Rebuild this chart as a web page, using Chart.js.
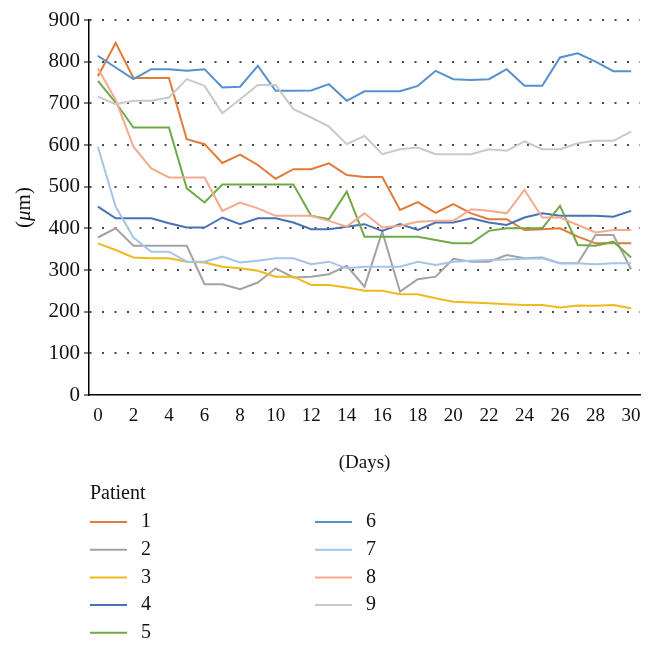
<!DOCTYPE html>
<html>
<head>
<meta charset="utf-8">
<script src="https://cdn.jsdelivr.net/npm/chart.js@4/dist/chart.umd.min.js"></script>
<style>
  html, body { margin: 0; padding: 0; background: #fff; }
  #wrap { width: 654px; height: 653px; position: relative; }
</style>
</head>
<body>
<div id="wrap"><canvas id="chart" width="654" height="653"></canvas></div>
<script>
/* ── Data ── */
const days = Array.from({ length: 31 }, (_, i) => String(i));
const patientNames = ['1', '2', '3', '4', '5', '6', '7', '8', '9'];
const patientColors = ['#E07B39', '#A3A3A3', '#F0B91C', '#4A70B5', '#70AA48',
                       '#5591CE', '#A4C4E8', '#F3AA8F', '#C9C9C9'];
const yTicks = [0, 100, 200, 300, 400, 500, 600, 700, 800, 900];

const p1 = [765, 845, 761, 761, 761, 614, 602, 557, 577, 552, 519, 542, 542, 556, 528, 523, 523, 444, 463, 437, 458, 436, 422, 422, 396, 398, 400, 380, 364, 364, 364];
const p2 = [378, 400, 358, 358, 358, 358, 266, 266, 254, 270, 304, 282, 284, 290, 310, 260, 392, 248, 278, 284, 327, 320, 320, 336, 328, 330, 316, 316, 384, 384, 302];
const p3 = [364, 348, 330, 328, 328, 320, 318, 308, 304, 298, 284, 284, 264, 264, 258, 250, 250, 242, 242, 232, 224, 222, 220, 218, 216, 216, 210, 215, 214, 216, 208];
const p4 = [452, 424, 424, 424, 412, 402, 402, 426, 410, 424, 424, 414, 398, 398, 404, 410, 394, 410, 396, 414, 414, 424, 414, 408, 426, 436, 430, 430, 430, 428, 442];
const p5 = [754, 702, 642, 642, 642, 496, 462, 505, 505, 505, 505, 505, 430, 422, 488, 380, 380, 380, 380, 372, 364, 364, 394, 400, 400, 400, 454, 360, 358, 368, 330];
const p6 = [814, 786, 758, 782, 782, 778, 782, 738, 740, 790, 730, 730, 731, 746, 706, 729, 729, 729, 742, 778, 758, 756, 758, 782, 742, 742, 810, 820, 800, 777, 777];
const p7 = [596, 452, 378, 344, 344, 320, 320, 332, 318, 322, 328, 328, 314, 320, 304, 308, 308, 308, 320, 312, 320, 322, 324, 325, 327, 328, 316, 316, 314, 316, 316];
const p8 = [784, 708, 596, 544, 522, 522, 522, 442, 462, 448, 430, 430, 430, 418, 404, 436, 402, 406, 416, 418, 418, 446, 442, 436, 492, 426, 426, 408, 390, 396, 396];
const p9 = [716, 698, 706, 706, 714, 758, 742, 676, 710, 744, 744, 686, 666, 644, 602, 622, 578, 590, 594, 578, 578, 578, 590, 586, 609, 590, 590, 604, 610, 610, 632];
const patientData = [p1, p2, p3, p4, p5, p6, p7, p8, p9];

const SERIF = "'Liberation Serif', 'DejaVu Serif', serif";

/* ── Y axis title "(μm)" with italic mu ── */
const yTitlePlugin = {
  id: 'yTitle',
  afterDraw(chart) {
    const c = chart.ctx;
    const a = chart.chartArea;
    const parts = [['(', 'normal'], ['\u03bc', 'italic'], ['m)', 'normal']];
    c.save();
    c.translate(24, (a.top + a.bottom) / 2);
    c.rotate(-Math.PI / 2);
    c.fillStyle = '#111';
    c.textBaseline = 'middle';
    let total = 0;
    parts.forEach(p => { c.font = `${p[1]} 21px ${SERIF}`; total += c.measureText(p[0]).width; });
    let x = -total / 2;
    parts.forEach(p => {
      c.font = `${p[1]} 21px ${SERIF}`;
      c.textAlign = 'left';
      c.fillText(p[0], x, 0);
      x += c.measureText(p[0]).width;
    });
    c.restore();
  }
};

/* ── Two-column legend under the axis ── */
const legendPlugin = {
  id: 'colLegend',
  afterDraw(chart) {
    const c = chart.ctx;
    c.save();
    c.fillStyle = '#111';
    c.font = `20px ${SERIF}`;
    c.textBaseline = 'middle';
    c.textAlign = 'left';
    c.fillText('Patient', 90, 494);
    chart.data.datasets.forEach((ds, i) => {
      const col = i < 5 ? 0 : 1;
      const row = i < 5 ? i : i - 5;
      const x0 = 90 + col * 225;
      const y = 522 + row * 27.7;
      c.beginPath();
      c.moveTo(x0, y);
      c.lineTo(x0 + 37, y);
      c.strokeStyle = ds.borderColor;
      c.lineWidth = 2;
      c.stroke();
      c.fillStyle = '#111';
      c.fillText(ds.label, x0 + 51, y);
    });
    c.restore();
  }
};

new Chart(document.getElementById('chart'), {
  type: 'line',
  data: {
    labels: days,
    datasets: patientData.map((d, i) => ({
      label: patientNames[i],
      data: d,
      borderColor: patientColors[i],
      backgroundColor: patientColors[i],
      borderWidth: 2,
      pointRadius: 0,
      tension: 0,
      fill: false,
      order: patientData.length - 1 - i
    }))
  },
  options: {
    responsive: false,
    animation: false,
    layout: { padding: { left: 0, right: 14, top: 20, bottom: 653 - 474 } },
    plugins: { legend: { display: false }, tooltip: { enabled: false } },
    scales: {
      x: {
        type: 'category',
        offset: true,
        grid: { display: false },
        border: { display: true, color: '#000', width: 1.5 },
        ticks: {
          autoSkip: false,
          maxRotation: 0,
          padding: 2,
          color: '#111',
          font: { family: SERIF, size: 19 },
          callback: (v, i) => (i % 2 === 0 ? days[i] : '')
        },
        title: {
          display: true,
          text: '(Days)',
          color: '#111',
          font: { family: SERIF, size: 19 },
          padding: 0
        },
        afterFit: s => { s.height = 79; }
      },
      y: {
        min: 0,
        max: 900,
        afterBuildTicks: s => { s.ticks = yTicks.map(v => ({ value: v })); },
        grid: {
          color: ctx => (ctx.tick && ctx.tick.value === 0 ? 'rgba(0,0,0,0)' : '#4a4a4a'),
          lineWidth: 2,
          drawTicks: true,
          tickLength: 5,
          tickColor: '#000',
          tickWidth: 1,
          tickBorderDash: []
        },
        border: { display: true, color: '#000', width: 1.5, dash: [2, 10.5] },
        ticks: {
          padding: 4,
          color: '#111',
          font: { family: SERIF, size: 21 }
        },
        afterFit: s => { s.width = 89; }
      }
    }
  },
  plugins: [yTitlePlugin, legendPlugin]
});
</script>
</body>
</html>
